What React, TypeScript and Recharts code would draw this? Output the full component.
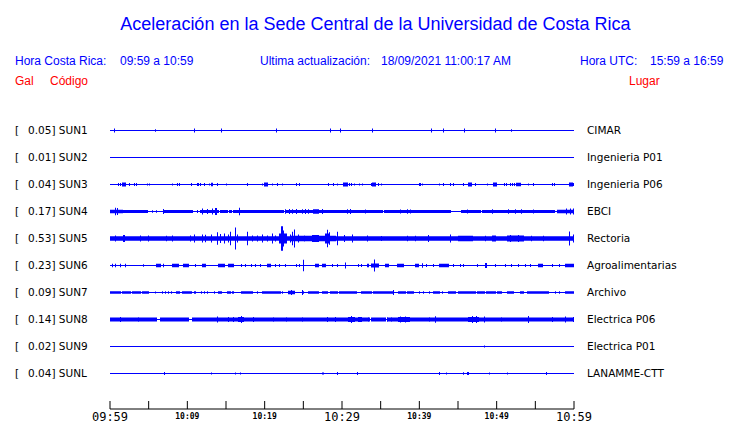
import React from 'react';
import { ComposedChart, Area, XAxis, YAxis } from 'recharts';

// ---------- data ----------
const STATIONS = ['SUN1', 'SUN2', 'SUN3', 'SUN4', 'SUN5', 'SUN6', 'SUN7', 'SUN8', 'SUN9', 'SUNL'];
const PEAK_GAL = ['0.05', '0.01', '0.04', '0.17', '0.53', '0.23', '0.09', '0.14', '0.02', '0.04'];
const PLACES = ['CIMAR', 'Ingenieria P01', 'Ingenieria P06', 'EBCI', 'Rectoria', 'Agroalimentarias', 'Archivo', 'Electrica P06', 'Electrica P01', 'LANAMME-CTT'];
const MINUTE_TICKS = [0, 5, 10, 15, 20, 25, 30, 35, 40, 45, 50, 55, 60];
const TIME_LABELS = ['09:59', '10:09', '10:19', '10:29', '10:39', '10:49', '10:59'];

// each trace: [startMinute, endMinute, halfAmplitudeGal]
type Seg = [number, number, number];

const SUN1: Seg[] = [
  [0.56, 0.56, 0.08], [5.86, 5.86, 0.05], [10.9, 10.9, 0.08], [14.4, 14.4, 0.08], [21.5, 21.5, 0.08],
  [28.5, 28.5, 0.08], [29.7, 29.7, 0.08], [33.9, 33.9, 0.08], [41.5, 41.5, 0.08], [43.0, 43.0, 0.08],
  [45.8, 45.8, 0.08], [49.8, 49.8, 0.08], [51.9, 51.9, 0.05],
];
const SUN2: Seg[] = [];
const SUN3: Seg[] = [
  [1.08, 1.08, 0.06], [1.34, 1.34, 0.06], [1.6, 1.94, 0.08], [2.41, 2.41, 0.06], [3.1, 3.1, 0.06], [3.36, 3.36, 0.06],
  [4.83, 4.83, 0.04], [5.09, 5.09, 0.04], [7.97, 7.97, 0.04], [8.62, 8.62, 0.06], [8.88, 8.88, 0.06], [10.5, 10.5, 0.06],
  [11.2, 11.2, 0.06], [11.4, 11.4, 0.06], [11.7, 11.7, 0.06], [12.1, 12.1, 0.06], [12.8, 12.8, 0.04], [13.1, 13.2, 0.07],
  [13.9, 13.9, 0.06], [15.0, 15.0, 0.04], [17.7, 17.7, 0.06], [19.6, 19.6, 0.04], [19.9, 20.3, 0.08], [20.9, 20.9, 0.04],
  [21.6, 21.6, 0.06], [22.3, 22.3, 0.04], [24.1, 24.1, 0.06], [24.5, 24.5, 0.06], [28.2, 28.2, 0.06], [28.9, 28.9, 0.06],
  [29.4, 29.4, 0.04], [30.1, 30.6, 0.08], [30.9, 30.9, 0.06], [31.2, 31.2, 0.06], [31.6, 31.6, 0.04], [32.2, 32.2, 0.04],
  [32.6, 32.6, 0.04], [33.8, 33.8, 0.06], [33.9, 34.3, 0.08], [34.7, 34.7, 0.06], [35.0, 35.0, 0.04], [39.9, 39.9, 0.06],
  [40.1, 40.1, 0.06], [40.4, 40.4, 0.04], [42.6, 42.6, 0.04], [43.0, 43.0, 0.06], [44.0, 44.0, 0.06], [44.3, 44.3, 0.06],
  [45.6, 45.6, 0.06], [46.3, 46.7, 0.08], [47.2, 47.2, 0.06], [48.8, 48.8, 0.04], [49.5, 49.9, 0.08], [50.9, 50.9, 0.06],
  [51.2, 51.2, 0.06], [51.7, 51.7, 0.06], [52.0, 52.0, 0.06], [52.3, 52.3, 0.06], [52.5, 53.0, 0.07], [54.1, 54.1, 0.04],
  [54.7, 54.7, 0.06], [57.2, 57.2, 0.06], [57.4, 57.4, 0.06], [59.3, 59.7, 0.08], [59.9, 59.9, 0.06],
];
const SUN4: Seg[] = [
  [0, 1.5, 0.07], [1.7, 4.8, 0.06], [5.4, 5.4, 0.05], [6.0, 6.0, 0.05], [6.8, 10.6, 0.06], [11.2, 11.2, 0.06],
  [11.6, 14.0, 0.06], [14.2, 15.1, 0.06], [15.4, 15.6, 0.06], [15.9, 16.5, 0.06], [16.8, 19.0, 0.06], [19.2, 22.4, 0.06],
  [22.6, 30.9, 0.06], [31.1, 35.2, 0.06], [35.4, 44.0, 0.06], [45.4, 47.9, 0.06], [48.1, 55.2, 0.06], [55.4, 57.4, 0.06],
  [57.8, 60, 0.07],
  [0.65, 0.65, 0.15], [0.95, 0.95, 0.14], [6.9, 6.9, 0.1], [11.85, 11.85, 0.12], [12.5, 12.5, 0.1], [13.15, 13.15, 0.12],
  [13.6, 13.7, 0.14], [16.7, 16.7, 0.15], [22.6, 22.6, 0.09], [23.1, 23.1, 0.1], [23.5, 23.5, 0.09], [24.1, 24.1, 0.1],
  [24.8, 24.8, 0.09], [25.2, 25.2, 0.1], [25.6, 25.6, 0.09], [26.3, 26.9, 0.09], [27.4, 27.4, 0.1], [30.6, 30.6, 0.09],
  [31.0, 31.0, 0.1], [33.0, 33.0, 0.08], [37.5, 37.5, 0.08], [38.4, 38.4, 0.09], [38.8, 38.8, 0.08], [46.1, 46.1, 0.08],
  [49.4, 49.4, 0.09], [51.5, 51.5, 0.09], [52.4, 52.4, 0.09], [53.2, 53.2, 0.09], [54.7, 54.7, 0.08], [59.0, 59.0, 0.12],
  [59.5, 59.5, 0.12], [59.9, 59.9, 0.12],
];
const SUN5: Seg[] = [
  [0, 23.2, 0.09], [23.3, 29.1, 0.11], [29.2, 60, 0.09],
  [0.65, 0.65, 0.12], [1.7, 1.8, 0.14], [3.9, 3.9, 0.12], [4.95, 4.95, 0.12], [7.3, 7.3, 0.11], [8.0, 8.0, 0.12],
  [10.3, 10.3, 0.12], [10.8, 10.8, 0.16], [11.85, 11.85, 0.16], [12.3, 12.3, 0.15], [13.05, 13.05, 0.16],
  [13.8, 13.8, 0.25], [14.2, 14.2, 0.18], [14.8, 14.8, 0.2], [15.2, 15.2, 0.16], [15.5, 15.5, 0.27], [16.1, 16.1, 0.45],
  [16.4, 16.4, 0.16], [17.7, 17.7, 0.28], [18.3, 18.3, 0.12], [19.0, 19.0, 0.12], [19.6, 19.6, 0.16], [20.3, 20.3, 0.12],
  [20.9, 20.9, 0.2], [21.4, 21.4, 0.12], [21.8, 22.8, 0.2], [22.1, 22.2, 0.5], [22.4, 22.4, 0.33], [23.3, 23.3, 0.16],
  [23.5, 23.5, 0.27], [23.8, 23.8, 0.37], [24.35, 24.35, 0.16], [25.1, 25.1, 0.12], [26.1, 26.9, 0.14],
  [27.8, 28.2, 0.2], [28.0, 28.1, 0.36], [28.3, 28.3, 0.25], [29.4, 29.4, 0.28], [30.3, 30.3, 0.14], [31.25, 31.25, 0.16],
  [33.2, 33.2, 0.12], [35.1, 35.1, 0.1], [38.4, 38.4, 0.11], [39.4, 39.4, 0.11], [41.1, 41.1, 0.14], [44.0, 44.0, 0.16],
  [45.0, 46.8, 0.11], [48.5, 48.5, 0.11], [49.4, 49.8, 0.12], [51.3, 53.4, 0.12], [51.7, 51.7, 0.14], [52.8, 52.8, 0.14],
  [54.5, 54.5, 0.11], [56.0, 56.0, 0.11], [59.3, 59.3, 0.29], [59.9, 59.9, 0.16],
];
const SUN6: Seg[] = [
  [0.2, 0.2, 0.07], [0.65, 0.65, 0.07], [1.3, 1.3, 0.07], [2.0, 2.0, 0.07], [4.3, 4.3, 0.05], [6.0, 6.5, 0.07],
  [6.8, 6.8, 0.07], [8.0, 8.8, 0.07], [9.5, 10.1, 0.07], [11.0, 11.0, 0.06], [11.85, 12.3, 0.07], [14.0, 14.75, 0.07],
  [15.3, 15.95, 0.07], [17.0, 17.0, 0.06], [17.5, 17.5, 0.06], [18.2, 18.2, 0.06], [18.75, 18.75, 0.06], [19.4, 19.4, 0.06],
  [20.3, 20.7, 0.07], [21.3, 21.3, 0.06], [21.8, 21.8, 0.06], [22.6, 22.6, 0.06], [24.1, 24.1, 0.06], [24.5, 24.5, 0.06],
  [25.0, 25.0, 0.23], [26.5, 26.9, 0.07], [27.4, 27.8, 0.07], [28.7, 28.7, 0.06], [29.3, 29.3, 0.06], [30.4, 30.4, 0.12],
  [32.1, 32.1, 0.06], [32.45, 32.45, 0.06], [33.2, 33.4, 0.07], [33.8, 34.7, 0.08], [34.1, 34.1, 0.24], [35.55, 36.0, 0.07],
  [37.1, 37.9, 0.07], [39.4, 39.8, 0.07], [40.4, 40.4, 0.09], [40.9, 40.9, 0.06], [41.8, 41.8, 0.06], [42.5, 43.7, 0.07],
  [44.4, 44.4, 0.06], [45.25, 45.25, 0.06], [45.7, 45.7, 0.06], [47.4, 47.4, 0.06], [48.5, 48.6, 0.1], [49.8, 49.8, 0.06],
  [51.1, 51.1, 0.06], [51.9, 51.9, 0.06], [52.8, 52.8, 0.06], [53.7, 53.7, 0.06], [54.3, 54.3, 0.06], [55.4, 55.8, 0.07],
  [57.1, 57.1, 0.06], [58.0, 58.0, 0.06], [58.8, 59.9, 0.07],
];
const SUN7: Seg[] = [
  [0, 1.3, 0.055], [1.5, 2.6, 0.055], [2.8, 3.9, 0.055], [4.1, 4.9, 0.055], [5.8, 5.8, 0.04], [6.75, 6.75, 0.05],
  [7.1, 7.1, 0.05], [7.5, 7.5, 0.05], [7.85, 7.85, 0.05], [8.5, 8.9, 0.055], [9.35, 10.5, 0.055], [10.8, 11.0, 0.055],
  [11.8, 11.8, 0.05], [12.1, 12.1, 0.05], [12.5, 12.5, 0.05], [13.4, 13.4, 0.05], [14.0, 14.4, 0.055], [15.1, 15.5, 0.055],
  [15.75, 15.95, 0.055], [16.9, 17.4, 0.055], [17.45, 18.3, 0.055], [19.0, 19.0, 0.05], [19.6, 22.0, 0.055],
  [22.2, 22.2, 0.05], [23.05, 23.8, 0.07], [23.4, 23.4, 0.1], [24.8, 24.8, 0.1], [25.0, 25.0, 0.05], [25.6, 26.9, 0.055],
  [27.4, 28.1, 0.055], [28.45, 29.3, 0.055], [29.65, 30.6, 0.055], [30.8, 31.8, 0.055], [32.45, 33.8, 0.055],
  [34.05, 36.6, 0.055], [36.6, 36.6, 0.1], [37.3, 38.1, 0.055], [38.4, 39.2, 0.055], [39.9, 39.9, 0.05],
  [40.5, 40.5, 0.05], [41.2, 41.2, 0.05], [41.8, 42.5, 0.055], [42.9, 42.9, 0.05], [43.75, 44.6, 0.055],
  [44.95, 47.2, 0.055], [47.5, 48.3, 0.055], [48.6, 49.8, 0.055], [50.0, 50.6, 0.055], [51.3, 52.15, 0.055],
  [53.0, 53.4, 0.055], [53.9, 56.7, 0.055], [57.5, 57.5, 0.05], [58.0, 58.0, 0.05], [58.8, 60, 0.055],
];
const SUN8: Seg[] = [
  [0, 6.0, 0.08], [6.45, 10.1, 0.08], [10.6, 33.5, 0.08], [33.7, 35.6, 0.08], [36.0, 60, 0.08],
  [1.3, 1.3, 0.1], [3.65, 3.65, 0.09], [13.8, 13.8, 0.12], [15.3, 15.3, 0.1], [15.9, 15.9, 0.1], [16.6, 17.2, 0.1],
  [17.0, 17.0, 0.14], [18.5, 18.5, 0.1], [21.1, 21.1, 0.09], [22.8, 22.8, 0.09], [24.8, 24.8, 0.09], [28.0, 28.0, 0.1],
  [29.1, 29.1, 0.1], [30.8, 31.5, 0.1], [31.1, 31.1, 0.14], [32.1, 32.5, 0.1], [33.4, 33.4, 0.09], [35.8, 35.8, 0.09],
  [36.3, 36.3, 0.09], [37.3, 38.6, 0.1], [37.5, 37.5, 0.12], [38.1, 38.1, 0.12], [41.2, 41.2, 0.09], [42.0, 42.0, 0.13],
  [46.3, 47.6, 0.1], [46.8, 46.8, 0.14], [47.3, 47.3, 0.14], [48.3, 48.3, 0.12], [50.6, 50.6, 0.09], [54.1, 54.1, 0.14],
  [57.1, 57.1, 0.1], [58.8, 58.8, 0.12], [59.9, 59.9, 0.1],
];
const SUN9: Seg[] = [[48.3, 48.3, 0.04]];
const SUNL: Seg[] = [
  [7.0, 7.0, 0.06], [13.1, 13.1, 0.04], [16.2, 16.2, 0.04], [16.85, 16.85, 0.04], [27.4, 27.6, 0.04], [29.4, 29.4, 0.06],
  [32.0, 32.0, 0.06], [42.5, 42.5, 0.06], [43.4, 43.4, 0.04], [45.7, 45.7, 0.05], [46.1, 46.3, 0.06], [49.05, 49.05, 0.04],
  [51.4, 51.4, 0.04], [56.4, 56.4, 0.06],
];

const TRACES: Seg[][] = [SUN1, SUN2, SUN3, SUN4, SUN5, SUN6, SUN7, SUN8, SUN9, SUNL];

// ---------- layout / derived table ----------
const W = 740;
const H = 423;
const ROW_GAL = 1.1; // vertical spacing between traces, in Gal
const N = TRACES.length;
const offsetOf = (i: number) => (N - 1 - i) * ROW_GAL;
const OFFSETS = STATIONS.map((_, i) => offsetOf(i));
const Y_DOMAIN: [number, number] = [-ROW_GAL * 35.5 / 27, ROW_GAL * (9 + 27.5 / 27)];
const LINE_HALF = 0.6 / (27 / ROW_GAL); // thin trace line half-thickness

const STEPS = 464;
const DT = 60 / STEPS;

const envelopes = TRACES.map((segs) => {
  const env = new Array(STEPS + 1).fill(0);
  segs.forEach(([s, e, a]) => {
    const k0 = Math.max(0, Math.round(s / DT));
    const k1 = Math.min(STEPS - 1, Math.round(e / DT));
    for (let k = k0; k <= k1; k++) env[k] = Math.max(env[k], a);
  });
  return env;
});

const table = Array.from({ length: STEPS + 1 }, (_, k) => {
  const row: Record<string, any> = { t: k * DT };
  envelopes.forEach((env, i) => {
    const h = Math.max(env[k], LINE_HALF);
    const off = offsetOf(i);
    row['s' + i] = [off - h, off + h];
  });
  return row;
});

const BLUE = '#0000FF';
const RED = '#FF0000';
const LABEL_FONT = 'DejaVu Sans';
const HEAD_FONT = '"Liberation Sans", Arial, sans-serif';

const rowIndex = (v: number) => Math.round(N - 1 - v / ROW_GAL);

const LeftTick = (props: any) => {
  const { y, payload } = props;
  const i = rowIndex(payload.value);
  return (
    <g>
      <text x={15} y={y + 3.5} fontFamily={LABEL_FONT} fontSize={10.5} fill="#000">[</text>
      <text x={28} y={y + 3.5} fontFamily={LABEL_FONT} fontSize={10.5} fill="#000">{`${PEAK_GAL[i]}] ${STATIONS[i]}`}</text>
    </g>
  );
};

const RightTick = (props: any) => {
  const { y, payload } = props;
  const i = rowIndex(payload.value);
  return (
    <text x={587} y={y + 3.5} fontFamily={LABEL_FONT} fontSize={10.5} fill="#000">{PLACES[i]}</text>
  );
};

const XTick = (props: any) => {
  const { x, y, payload } = props;
  const m = payload.value as number;
  const label = m % 10 === 0 ? TIME_LABELS[m / 10] : null;
  const big = m % 30 === 0;
  return (
    <g>
      <line x1={x} x2={x} y1={y - 8} y2={y} stroke="#000" strokeWidth={1} />
      {label && (
        <text
          x={x}
          y={y + (big ? 12 : 10)}
          textAnchor="middle"
          fontFamily="DejaVu Sans Mono"
          fontSize={big ? 12 : 8}
          fontWeight={big ? 400 : 700}
          fill="#000"
        >
          {label}
        </text>
      )}
    </g>
  );
};

export default function App() {
  return (
    <div style={{ position: 'absolute', left: 0, top: 0, width: W, height: H, background: '#fff' }}>
      <ComposedChart width={W} height={H} data={table} margin={{ top: 103, right: 0, bottom: 0, left: 0 }}>
        <XAxis
          dataKey="t"
          type="number"
          domain={[0, 60]}
          ticks={MINUTE_TICKS}
          interval={0}
          allowDataOverflow
          height={14}
          tickLine={false}
          tickSize={0}
          tickMargin={0}
          axisLine={{ stroke: '#000', strokeWidth: 1 }}
          tick={(p: any) => <XTick {...p} />}
        />
        <YAxis
          yAxisId="left"
          type="number"
          domain={Y_DOMAIN}
          allowDataOverflow
          ticks={OFFSETS}
          interval={0}
          width={110}
          axisLine={false}
          tickLine={false}
          tick={(p: any) => <LeftTick {...p} />}
        />
        <YAxis
          yAxisId="right"
          orientation="right"
          type="number"
          domain={Y_DOMAIN}
          allowDataOverflow
          ticks={OFFSETS}
          interval={0}
          width={166}
          axisLine={false}
          tickLine={false}
          tick={(p: any) => <RightTick {...p} />}
        />
        {STATIONS.map((st, i) => (
          <Area
            key={st}
            yAxisId="left"
            dataKey={'s' + i}
            type="stepAfter"
            stroke="none"
            fill={BLUE}
            fillOpacity={1}
            isAnimationActive={false}
            dot={false}
            activeDot={false}
          />
        ))}
      </ComposedChart>
      <svg width={W} height={H} style={{ position: 'absolute', left: 0, top: 0, pointerEvents: 'none' }}>
        <text x={375.5} y={30} textAnchor="middle" fontFamily={HEAD_FONT} fontSize={18} fill={BLUE}>
          Aceleración en la Sede Central de la Universidad de Costa Rica
        </text>
        <g fontFamily={HEAD_FONT} fontSize={12} fill={BLUE}>
          <text x={15} y={65}>Hora Costa Rica:</text>
          <text x={120} y={65}>09:59 a 10:59</text>
          <text x={260} y={65}>Ultima actualización:</text>
          <text x={381} y={65}>18/09/2021 11:00:17 AM</text>
          <text x={580} y={65}>Hora UTC:</text>
          <text x={650} y={65}>15:59 a 16:59</text>
        </g>
        <g fontFamily={HEAD_FONT} fontSize={12} fill={RED}>
          <text x={15} y={85}>Gal</text>
          <text x={50} y={85}>Código</text>
          <text x={629} y={85}>Lugar</text>
        </g>
      </svg>
    </div>
  );
}
